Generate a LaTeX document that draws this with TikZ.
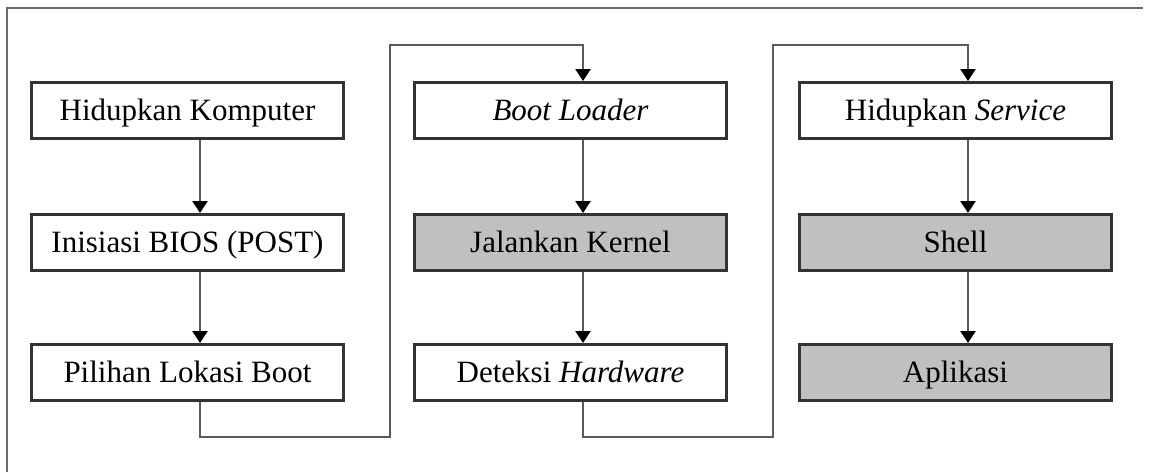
\documentclass[tikz,border=0pt]{standalone}
\usepackage{fontspec}
\setmainfont{Liberation Serif}
\usetikzlibrary{arrows.meta}
\definecolor{boxline}{HTML}{333333}
\definecolor{wire}{HTML}{5A5A5A}
\definecolor{shade}{HTML}{C0C0C0}
\tikzset{
  stepbox/.style={draw=boxline, line width=3pt, fill=white, rectangle,
    minimum width=312pt, minimum height=56pt, inner sep=0pt,
    text height=22pt, text depth=3pt, anchor=north west,
    font=\fontsize{31}{37}\selectfont},
  greybox/.style={stepbox, fill=shade},
  flow/.style={draw=wire, line width=2.6pt,
    -{Triangle[width=15pt,length=12pt,color=black]}},
  frameline/.style={draw=wire!90, line width=2.6pt}
}
\begin{document}
\begin{tikzpicture}[x=1pt,y=1pt]
\useasboundingbox (0,0) rectangle (1153,-472);
% open frame (left and top edges)
\draw[frameline] (7,-472) -- (7,-8) -- (1143,-8);

% column 1
\node[stepbox] (a1) at (30,-81)  {Hidupkan Komputer};
\node[stepbox] (a2) at (30,-213) {Inisiasi BIOS (POST)};
\node[stepbox] (a3) at (30,-343) {Pilihan Lokasi Boot};
% column 2
\node[stepbox] (b1) at (413,-81)  {\textit{Boot Loader}};
\node[greybox] (b2) at (413,-213) {Jalankan Kernel};
\node[stepbox] (b3) at (413,-343) {Deteksi \textit{Hardware}};
% column 3
\node[stepbox] (c1) at (798,-81)  {Hidupkan \textit{Service}};
\node[greybox] (c2) at (798,-213) {Shell};
\node[greybox] (c3) at (798,-343) {Aplikasi};

% routing points between columns
\coordinate (j1b) at (390,-437);
\coordinate (j1t) at (390,-45);
\coordinate (j2b) at (773,-437);
\coordinate (j2t) at (773,-45);

% vertical steps
\foreach \u/\v in {a1/a2,a2/a3,b1/b2,b2/b3,c1/c2,c2/c3}
  \draw[flow] ([xshift=12.5pt]\u.south) -- ([xshift=12.5pt]\v.north);

% column-to-column links
\draw[flow] ([xshift=12.5pt]a3.south) |- (j1b) -- (j1t) -| ([xshift=12.5pt]b1.north);
\draw[flow] ([xshift=12.5pt]b3.south) |- (j2b) -- (j2t) -| ([xshift=12.5pt]c1.north);
\end{tikzpicture}
\end{document}
